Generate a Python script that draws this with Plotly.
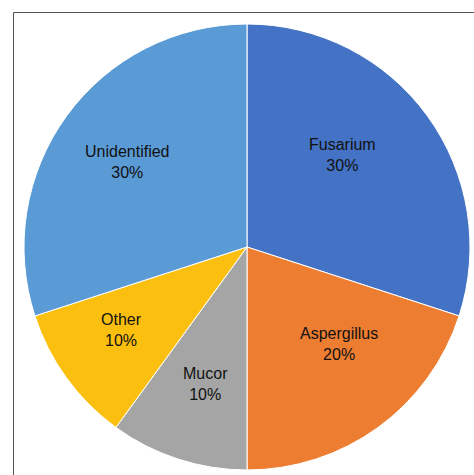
import plotly.graph_objects as go

labels = ["Fusarium", "Aspergillus", "Mucor", "Other", "Unidentified"]
values = [30, 20, 10, 10, 30]
colors = ["#4472C4", "#ED7D31", "#A5A5A5", "#FBBF10", "#5B9BD5"]

W, H = 474, 475
cx, cy, r = 247, 247, 223
# label centre positions (pixels) as placed in the reference
label_px = [(342, 155), (338.5, 344), (205, 384), (121, 330), (127.5, 162)]

total = sum(values)
fig = go.Figure(go.Pie(
    labels=labels, values=values, sort=False, direction="clockwise", rotation=0,
    marker=dict(colors=colors, line=dict(color="white", width=1)),
    textinfo="none",
    domain=dict(x=[(cx - r) / W, (cx + r) / W], y=[(H - cy - r) / H, (H - cy + r) / H]),
    showlegend=False, hoverinfo="label+percent",
))
annotations = []
for lab, val, (px, py) in zip(labels, values, label_px):
    annotations.append(dict(
        text=f"{lab}<br>{round(100 * val / total)}%",
        xref="paper", yref="paper", x=px / W, y=1 - py / H,
        xanchor="center", yanchor="middle", showarrow=False,
        font=dict(family="Liberation Sans, Arial, sans-serif", size=16, color="#111111"),
    ))
fig.update_layout(
    width=W, height=H, margin=dict(l=0, r=0, t=0, b=0),
    paper_bgcolor="white", annotations=annotations,
    shapes=[dict(type="rect", xref="paper", yref="paper",
                 x0=13.5 / W, x1=1.2, y0=-0.2, y1=1 - 12.5 / H,
                 line=dict(color="#555555", width=1))],
)
fig.write_html("out.html")
